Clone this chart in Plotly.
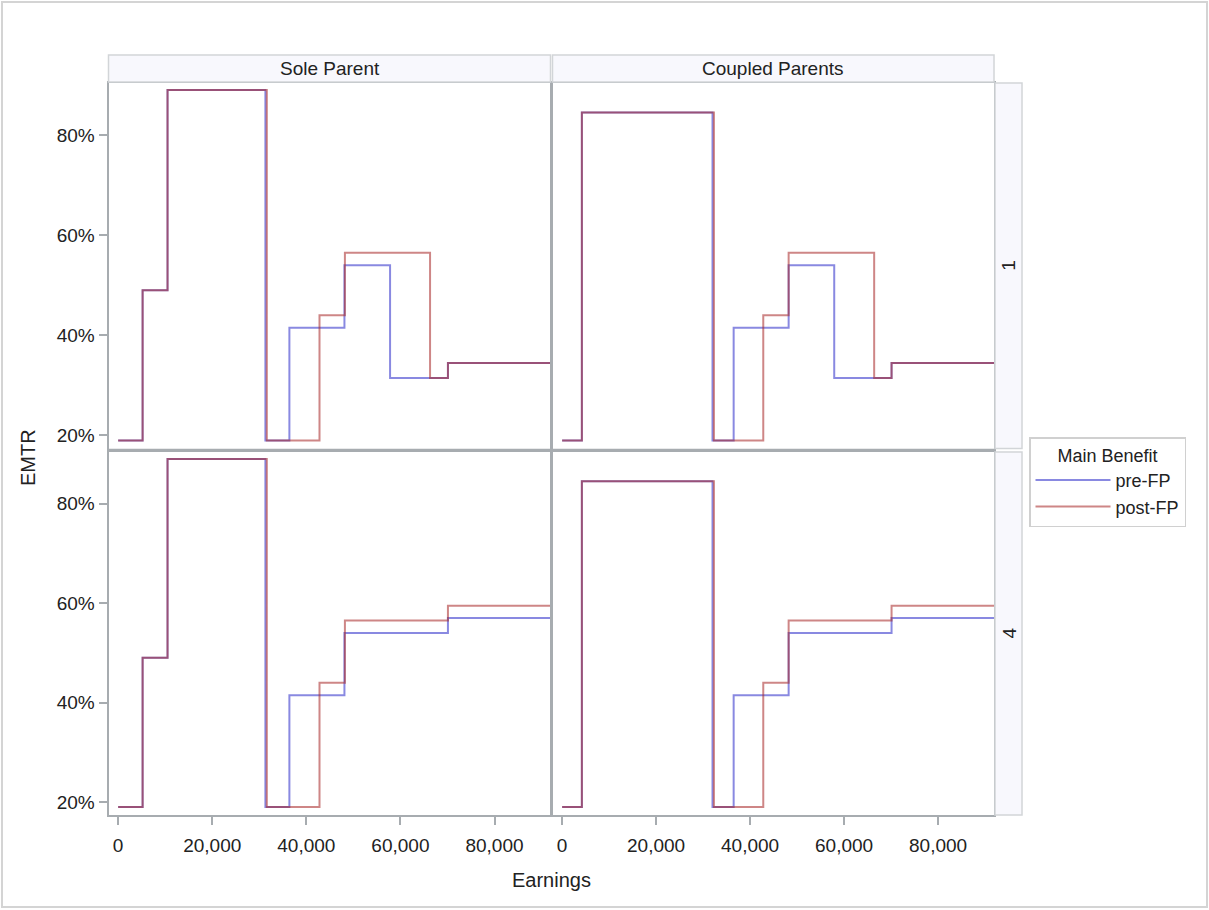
import plotly.graph_objects as go

# Effective marginal tax rate (%) by earnings, step functions per panel
household_types = ["Sole Parent", "Coupled Parents"]
row_labels = ["1", "4"]
series_names = ["pre-FP", "post-FP"]

# Sole parent, row "1"
sole_r1_pre_x = [0, 5200, 10500, 31300, 36400, 48100, 57800, 70100, 92000]
sole_r1_pre_y = [19, 49, 89, 19, 41.5, 54, 31.5, 34.5, 34.5]
sole_r1_post_x = [0, 5200, 10500, 31600, 42800, 48200, 66300, 70100, 92000]
sole_r1_post_y = [19, 49, 89, 19, 44, 56.5, 31.5, 34.5, 34.5]

# Coupled parents, row "1"
coup_r1_pre_x = [0, 4200, 32000, 36500, 48200, 57900, 70100, 92000]
coup_r1_pre_y = [19, 84.5, 19, 41.5, 54, 31.5, 34.5, 34.5]
coup_r1_post_x = [0, 4200, 32300, 42800, 48200, 66400, 70100, 92000]
coup_r1_post_y = [19, 84.5, 19, 44, 56.5, 31.5, 34.5, 34.5]

# Sole parent, row "4"
sole_r4_pre_x = [0, 5200, 10500, 31300, 36400, 48100, 70100, 92000]
sole_r4_pre_y = [19, 49, 89, 19, 41.5, 54, 57, 57]
sole_r4_post_x = [0, 5200, 10500, 31600, 42800, 48200, 70100, 92000]
sole_r4_post_y = [19, 49, 89, 19, 44, 56.5, 59.5, 59.5]

# Coupled parents, row "4"
coup_r4_pre_x = [0, 4200, 32000, 36500, 48200, 70100, 92000]
coup_r4_pre_y = [19, 84.5, 19, 41.5, 54, 57, 57]
coup_r4_post_x = [0, 4200, 32300, 42800, 48200, 70100, 92000]
coup_r4_post_y = [19, 84.5, 19, 44, 56.5, 59.5, 59.5]

x_ticks = [0, 20000, 40000, 60000, 80000]
x_tick_text = ["0", "20,000", "40,000", "60,000", "80,000"]
y_ticks = [20, 40, 60, 80]
y_tick_text = ["20%", "40%", "60%", "80%"]

W, H = 1209, 910
FONT = "Liberation Sans, Arial, sans-serif"
TXT = "#222222"
PRE_COLOR = "rgba(40,40,200,0.55)"
POST_COLOR = "rgba(165,35,35,0.55)"
FRAME = "#a7acb0"
STRIP_FILL = "#f8f8fd"
STRIP_LINE = "#d2d5d8"


def px(x):
    return x / W


def py(y):
    return 1 - y / H


# panel pixel boxes: (left, right) per column, (top, bottom) per row
cols = [(108.5, 550.5), (552.5, 994)]
rows = [(83, 448.5), (452, 815)]

panels = [
    # (row, col, pre_x, pre_y, post_x, post_y)
    (0, 0, sole_r1_pre_x, sole_r1_pre_y, sole_r1_post_x, sole_r1_post_y),
    (0, 1, coup_r1_pre_x, coup_r1_pre_y, coup_r1_post_x, coup_r1_post_y),
    (1, 0, sole_r4_pre_x, sole_r4_pre_y, sole_r4_post_x, sole_r4_post_y),
    (1, 1, coup_r4_pre_x, coup_r4_pre_y, coup_r4_post_x, coup_r4_post_y),
]

fig = go.Figure()
layout_axes = {}

for i, (r, c, prx, pry, pox, poy) in enumerate(panels):
    n = i + 1
    xa = "x" if n == 1 else f"x{n}"
    ya = "y" if n == 1 else f"y{n}"
    fig.add_trace(go.Scatter(
        x=prx, y=pry, mode="lines", line=dict(color=PRE_COLOR, width=2, shape="hv"),
        name=series_names[0], legendgroup="pre", showlegend=(n == 1),
        xaxis=xa, yaxis=ya))
    fig.add_trace(go.Scatter(
        x=pox, y=poy, mode="lines", line=dict(color=POST_COLOR, width=2, shape="hv"),
        name=series_names[1], legendgroup="post", showlegend=(n == 1),
        xaxis=xa, yaxis=ya))

    l, rr = cols[c]
    t, b = rows[r]
    xkey = "xaxis" if n == 1 else f"xaxis{n}"
    ykey = "yaxis" if n == 1 else f"yaxis{n}"
    layout_axes[xkey] = dict(
        domain=[px(l), px(rr)], anchor=ya, range=[-2050, 91900],
        tickmode="array", tickvals=x_ticks, ticktext=x_tick_text,
        showticklabels=(r == 1),
        ticks="outside" if r == 1 else "", ticklen=8, tickcolor=FRAME, tickwidth=1.5,
        ticklabelstandoff=4,
        showgrid=False, zeroline=False, showline=True, mirror=True,
        linecolor=FRAME, linewidth=2,
        tickfont=dict(family=FONT, size=19, color=TXT))
    layout_axes[ykey] = dict(
        domain=[py(b), py(t)], anchor=xa, range=[17.4, 90.4],
        tickmode="array", tickvals=y_ticks, ticktext=y_tick_text,
        showticklabels=(c == 0),
        ticks="outside" if c == 0 else "", ticklen=8, tickcolor=FRAME, tickwidth=1.5,
        showgrid=False, zeroline=False, showline=True, mirror=True,
        linecolor=FRAME, linewidth=2,
        tickfont=dict(family=FONT, size=19, color=TXT))

shapes = [
    # outer frame
    dict(type="rect", xref="paper", yref="paper", x0=px(2), x1=px(1207), y0=py(907), y1=py(2),
         line=dict(color="#d4d4d4", width=2), fillcolor="rgba(0,0,0,0)", layer="below"),
    # heavier separators between the panel columns and rows
    dict(type="line", xref="paper", yref="paper", x0=px(551.5), x1=px(551.5),
         y0=py(815), y1=py(83), line=dict(color=FRAME, width=3)),
    dict(type="line", xref="paper", yref="paper", x0=px(108.5), x1=px(994),
         y0=py(450.2), y1=py(450.2), line=dict(color=FRAME, width=3)),
]
annotations = []

# column header strips
for c, name in enumerate(household_types):
    l, rr = cols[c]
    shapes.append(dict(type="rect", xref="paper", yref="paper",
                       x0=px(l), x1=px(rr), y0=py(82), y1=py(55),
                       line=dict(color=STRIP_LINE, width=1.5), fillcolor=STRIP_FILL))
    annotations.append(dict(text=name, xref="paper", yref="paper",
                            x=px((l + rr) / 2), y=py(69), showarrow=False,
                            xanchor="center", yanchor="middle",
                            font=dict(family=FONT, size=19, color=TXT)))

# row header strips
for r, lab in enumerate(row_labels):
    t, b = rows[r]
    shapes.append(dict(type="rect", xref="paper", yref="paper",
                       x0=px(995), x1=px(1022), y0=py(b), y1=py(t),
                       line=dict(color=STRIP_LINE, width=1.5), fillcolor=STRIP_FILL))
    annotations.append(dict(text=lab, xref="paper", yref="paper",
                            x=px(1009), y=py((t + b) / 2), showarrow=False,
                            textangle=-90, xanchor="center", yanchor="middle",
                            font=dict(family=FONT, size=19, color=TXT)))

# axis titles spanning the panel grid
annotations.append(dict(text="Earnings", xref="paper", yref="paper",
                        x=px(551), y=py(880), showarrow=False,
                        xanchor="center", yanchor="middle",
                        font=dict(family=FONT, size=20, color=TXT)))
annotations.append(dict(text="EMTR", xref="paper", yref="paper",
                        x=px(28), y=py(458), showarrow=False, textangle=-90,
                        xanchor="center", yanchor="middle",
                        font=dict(family=FONT, size=20, color=TXT)))

fig.update_layout(
    width=W, height=H, margin=dict(l=0, r=0, t=0, b=0),
    paper_bgcolor="white", plot_bgcolor="white",
    shapes=shapes, annotations=annotations,
    legend=dict(
        x=px(1029), y=py(437), xanchor="left", yanchor="top",
        title=dict(text="Main Benefit", side="top center",
                   font=dict(family=FONT, size=18, color=TXT)),
        font=dict(family=FONT, size=18, color=TXT),
        bordercolor="#d0d0d0", borderwidth=1.5, bgcolor="white",
        itemwidth=75, tracegroupgap=0),
    **layout_axes,
)

fig.write_html("out.html")
